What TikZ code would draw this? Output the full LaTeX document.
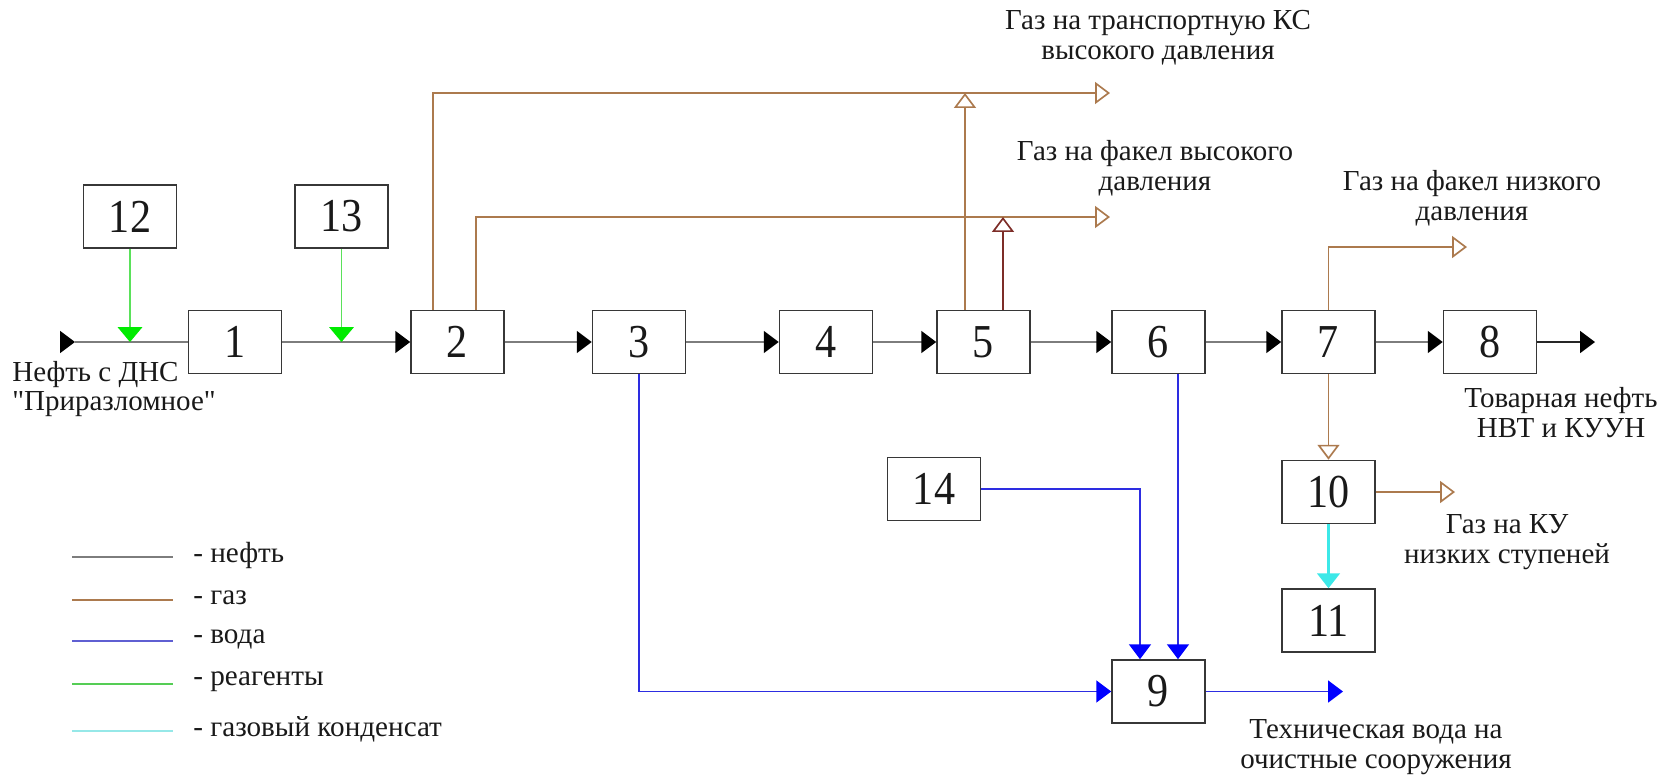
\documentclass[tikz,border=0pt]{standalone}
\usepackage{fontspec}
\usepackage{graphicx}
\setmainfont{Liberation Serif}[Ligatures=TeXOff]
\usetikzlibrary{arrows.meta,calc}
\definecolor{oilc}{RGB}{125,125,125}
\definecolor{boxc}{RGB}{55,55,55}
\definecolor{gasc}{RGB}{172,122,78}
\definecolor{gasdark}{RGB}{125,45,40}
\definecolor{waterc}{RGB}{45,45,225}
\definecolor{waterhead}{RGB}{0,0,255}
\definecolor{reagc}{RGB}{90,225,90}
\definecolor{reaghead}{RGB}{0,235,0}
\definecolor{condc}{RGB}{60,232,232}
\definecolor{legwater}{RGB}{95,95,210}
\definecolor{legreag}{RGB}{85,205,85}
\definecolor{legcond}{RGB}{150,232,232}
\definecolor{txt}{RGB}{25,25,25}
\newcommand{\dg}[1]{\scalebox{1}[1.12]{#1}}
\tikzset{
  box/.style={draw=boxc, line width=0.9pt, fill=white, minimum width=1.86cm, minimum height=1.26cm, inner sep=0pt, text=txt, font=\fontsize{24}{26}\selectfont},
  lbl/.style={font=\fontsize{16.5}{17}\selectfont, align=center, inner sep=0pt, text=txt},
  leg/.style={font=\fontsize{16.6}{17}\selectfont, anchor=west, inner sep=0pt, text=txt},
  oil/.style={draw=oilc, line width=0.95pt},
  tipblack/.style={-{Triangle[length=8.5pt,width=12.5pt,color=black]}},
  gas/.style={draw=gasc, line width=0.95pt, -{Triangle[open,length=8.5pt,width=12.5pt,fill=white]}},
  water/.style={draw=waterc, line width=0.95pt, -{Triangle[length=8.5pt,width=12.5pt,color=waterhead]}},
  reag/.style={draw=reagc, line width=0.95pt, -{Triangle[length=8.5pt,width=14pt,color=reaghead]}},
  cond/.style={draw=condc, line width=1.2pt, -{Triangle[length=8.5pt,width=13pt,color=condc]}},
}
\begin{document}
\begin{tikzpicture}[x=0.02cm,y=-0.02cm]
\useasboundingbox (0,0) rectangle (1666,778);
% boxes
\node[box] (b12) at (130,216.5) {\dg{12}};
\node[box] (b13) at (341.5,216.5) {\dg{13}};
\node[box] (b1) at (235,342) {\dg{1}};
\node[box] (b2) at (457.5,342) {\dg{2}};
\node[box] (b3) at (639,342) {\dg{3}};
\node[box] (b4) at (826,342) {\dg{4}};
\node[box] (b5) at (983.5,342) {\dg{5}};
\node[box] (b6) at (1158.5,342) {\dg{6}};
\node[box] (b7) at (1328.5,342) {\dg{7}};
\node[box] (b8) at (1490,342) {\dg{8}};
\node[box] (b10) at (1328.5,492) {\dg{10}};
\node[box] (b11) at (1328.5,620.5) {\dg{11}};
\node[box] (b14) at (934,489) {\dg{14}};
\node[box] (b9) at (1158.5,691.5) {\dg{9}};
% coordinates
\coordinate (in0) at (60,342);
\coordinate (in1) at (75,342);
\coordinate (r12) at (130,342);
\coordinate (r13) at (341.5,342);
\coordinate (g1) at (1110,93);
\coordinate (g2) at (1110,217);
\coordinate (g7) at (1467,247);
\coordinate (g10) at (1455,492);
\coordinate (out8) at (1595,342);
\coordinate (out9) at (1343,691.5);
\coordinate (s2a) at ($(b2.north)+(-24.5,0)$);
\coordinate (s2b) at ($(b2.north)+(18.5,0)$);
\coordinate (s5a) at ($(b5.north)+(-18.5,0)$);
\coordinate (s5b) at ($(b5.north)+(19.5,0)$);
\coordinate (s6) at ($(b6.south)+(19.5,0)$);
\coordinate (n9a) at ($(b9.north)+(-18.5,0)$);
\coordinate (n9b) at ($(b9.north)+(19.5,0)$);
% oil line
\draw[oil,tipblack] (in0) -- (in1);
\draw[oil] (in1) -- (b1.west);
\draw[oil,tipblack] (b1.east) -- (b2.west);
\draw[oil,tipblack] (b2.east) -- (b3.west);
\draw[oil,tipblack] (b3.east) -- (b4.west);
\draw[oil,tipblack] (b4.east) -- (b5.west);
\draw[oil,tipblack] (b5.east) -- (b6.west);
\draw[oil,tipblack] (b6.east) -- (b7.west);
\draw[oil,tipblack] (b7.east) -- (b8.west);
\draw[oil,draw=black!85,tipblack] (b8.east) -- (out8);
% reagents
\draw[reag] (b12.south) -- (r12);
\draw[reag] (b13.south) -- (r13);
% gas
\draw[gas] (s2a) |- (g1);
\draw[gas] (s2b) |- (g2);
\draw[gas] (s5a) -- (s5a |- g1);
\draw[gas,draw=gasdark] (s5b) -- (s5b |- g2);
\draw[gas] (b7.north) |- (g7);
\draw[gas] (b7.south) -- (b10.north);
\draw[gas] (b10.east) -- (g10);
% condensate
\draw[cond] (b10.south) -- (b11.north);
% water
\draw[water] (b3.south) |- (b9.west);
\draw[water] (b14.east) -| (n9a);
\draw[water] (s6) -- (n9b);
\draw[water] (b9.east) -- (out9);
% labels
\node[lbl,anchor=west,align=left] (tin) at (12,389) {Нефть с ДНС\\"Приразломное"};
\node[lbl] (t1) at (1158,37.5) {Газ на транспортную КС\\высокого давления};
\node[lbl] (t2) at (1155,168) {Газ на факел высокого\\давления};
\node[lbl] (t3) at (1472,198) {Газ на факел низкого\\давления};
\node[lbl] (t4) at (1561,412.5) {Товарная нефть\\НВТ и КУУН};
\node[lbl] (t5) at (1507,542) {Газ на КУ\\низких ступеней};
\node[lbl] (t6) at (1376,747) {Техническая вода на\\очистные сооружения};
% legend
\draw[oil] (72,557) -- (173,557) coordinate (l1);
\draw[draw=gasc,line width=1pt] (72,600) -- (173,600) coordinate (l2);
\draw[draw=legwater,line width=1pt] (72,641) -- (173,641) coordinate (l3);
\draw[draw=legreag,line width=1pt] (72,684) -- (173,684) coordinate (l4);
\draw[draw=legcond,line width=1pt] (72,731) -- (173,731) coordinate (l5);
\node[leg] (lt1) at (193,555) {- нефть};
\node[leg] (lt2) at (193,598) {- газ};
\node[leg] (lt3) at (193,639) {- вода};
\node[leg] (lt4) at (193,682) {- реагенты};
\node[leg] (lt5) at (193,729) {- газовый конденсат};
\end{tikzpicture}
\end{document}
